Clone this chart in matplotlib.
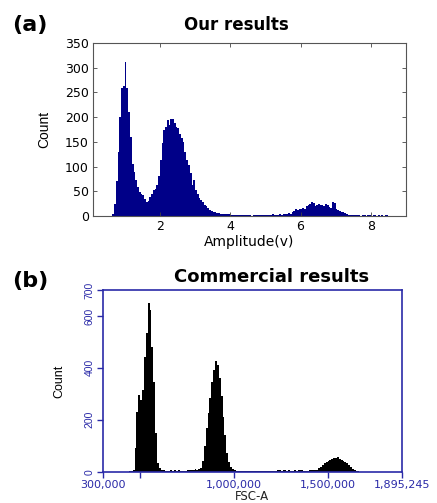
import numpy as np
from matplotlib import pyplot as plt
from matplotlib.ticker import FixedLocator

# (a) our results: histogram counts, bins of 0.05 V starting at 0.60 V
amp_start = 0.60
amp_width = 0.05
amp_counts = [
    0, 5, 25, 70, 130, 200, 258, 262, 311, 259,          # 0.60 - 1.05
    210, 160, 105, 88, 72, 58, 48, 44, 42, 35,           # 1.10 - 1.55
    29, 30, 38, 45, 52, 55, 62, 80,                      # 1.60 - 1.95
    113, 147, 174, 181, 195, 184, 196, 196, 188, 181,    # 2.00 - 2.45
    178, 165, 158, 150, 130, 113, 103, 86, 62, 72,       # 2.50 - 2.95
    53, 45, 36, 32, 28, 22, 20, 17, 13, 10,              # 3.00 - 3.45
    9, 8, 6, 6, 5, 5, 5, 4, 5, 4,                        # 3.50 - 3.95
    3, 3, 2, 3, 2, 1, 2, 3, 2, 1,                        # 4.00 - 4.45
    2, 1, 0, 2, 3, 2, 1, 2, 3, 1,                        # 4.50 - 4.95
    2, 1, 3, 2, 4, 2, 3, 2, 4, 3,                        # 5.00 - 5.45
    4, 5, 4, 6, 5, 9, 11, 14, 13, 15,                    # 5.50 - 5.95
    14, 16, 15, 20, 22, 24, 29, 26, 20, 22,              # 6.00 - 6.45
    24, 22, 23, 21, 24, 22, 18, 17, 28, 27,              # 6.50 - 6.95
    14, 12, 11, 9, 8, 6, 5, 3, 2, 3,                     # 7.00 - 7.45
    1, 2, 1, 2, 0, 1, 2, 0, 1, 2,                        # 7.50 - 7.95
    0, 1, 2, 0, 1, 0, 2, 0, 1, 1, 0,                     # 8.00 - 8.50
]

# (b) commercial results: histogram counts, bins of 10,000 starting at 430,000
fsc_start = 430000
fsc_width = 10000
fsc_counts = [
    0, 3, 4, 5, 90, 231, 295, 276, 315, 443,             # 430k - 520k
    533, 651, 623, 482, 347, 148, 32, 13, 8, 5,          # 530k - 620k
    3, 2, 4, 5, 3, 5, 4, 5, 3, 4,                        # 630k - 720k
    2, 3, 5, 6, 8, 7, 9, 8, 10, 13,                      # 730k - 820k
    40, 100, 170, 225, 285, 345, 390, 428, 410, 360,     # 830k - 920k
    290, 210, 140, 71, 39, 19, 9, 6, 4, 3,               # 930k - 1020k
    2, 3, 2, 4, 2, 1, 2, 1, 2, 1,                        # 1030k - 1120k
    2, 1, 2, 1, 2, 1, 2, 3, 2, 4,                        # 1130k - 1220k
    5, 6, 4, 5, 6, 4, 5, 3, 4, 5,                        # 1230k - 1320k
    4, 6, 8, 5, 4, 3, 4, 5, 6, 5,                        # 1330k - 1420k
    6, 8, 13, 18, 25, 33, 38, 42, 45, 48,                # 1430k - 1520k
    52, 54, 55, 50, 45, 40, 36, 35, 25, 18,              # 1530k - 1620k
    11, 8, 4, 2, 0,                                      # 1630k - 1670k
]

a_yticks = [0, 50, 100, 150, 200, 250, 300, 350]
a_xticks = [2, 4, 6, 8]
b_yticks = [0, 200, 400, 600, 700]
b_xticks = [300000, 1000000, 1500000, 1895245]
b_xlabels = ['300,000', '1,000,000', '1,500,000', '1,895,245']

navy = '#000088'
blue = '#2a2aa8'
slim = ['Liberation Sans', 'DejaVu Sans']

fig = plt.figure(figsize=(4.37, 5.03), dpi=100)

# ---- panel (a) ----
ax1 = fig.add_axes([0.213, 0.5706, 0.716, 0.344])
edges_a = amp_start + amp_width * np.arange(len(amp_counts) + 1)
ax1.stairs(amp_counts, edges_a, fill=True, color=navy, linewidth=0)
ax1.set_xlim(0.1, 9.0)
ax1.set_ylim(0, 350)
ax1.set_yticks(a_yticks)
ax1.set_xticks(a_xticks)
ax1.tick_params(direction='in', top=True, right=True, length=3,
                labelsize=9, width=0.6, pad=3, color='#444444')
for s in ax1.spines.values():
    s.set_color('#555555')
    s.set_linewidth(0.8)
ax1.set_xlabel('Amplitude(v)', fontsize=10, labelpad=1)
ax1.set_ylabel('Count', fontsize=10, labelpad=10, family=slim)

fig.text(0.028, 0.938, '(a)', fontsize=16, fontweight='bold')
fig.text(0.542, 0.940, 'Our results', fontsize=12, fontweight='bold', ha='center')

# ---- panel (b) ----
ax2 = fig.add_axes([0.235, 0.0622, 0.684, 0.3613])
edges_b = fsc_start + fsc_width * np.arange(len(fsc_counts) + 1)
ax2.stairs(fsc_counts, edges_b, fill=True, color='black', linewidth=0)
ax2.set_xlim(300000, 1895245)
ax2.set_ylim(0, 700)
ax2.set_yticks(b_yticks)
ax2.set_yticklabels([str(v) for v in b_yticks], rotation=90, va='center',
                    family=slim, fontsize=7.5)
ax2.set_xticks(b_xticks)
ax2.set_xticklabels(b_xlabels)
ax2.xaxis.set_minor_locator(FixedLocator([500000]))
ax2.tick_params(which='both', direction='out', length=4, width=1,
                color=blue, labelcolor=blue, pad=2)
ax2.tick_params(axis='x', labelsize=8)
for s in ax2.spines.values():
    s.set_color(blue)
    s.set_linewidth(1.2)
ax2.set_xlabel('FSC-A', fontsize=8.5, labelpad=0, color='#222222')
ax2.set_ylabel('Count', fontsize=9, labelpad=14, family=slim)

fig.text(0.028, 0.430, '(b)', fontsize=16, fontweight='bold')
fig.text(0.622, 0.440, 'Commercial results', fontsize=13, fontweight='bold', ha='center')

fig.savefig('out.png', dpi=100)
